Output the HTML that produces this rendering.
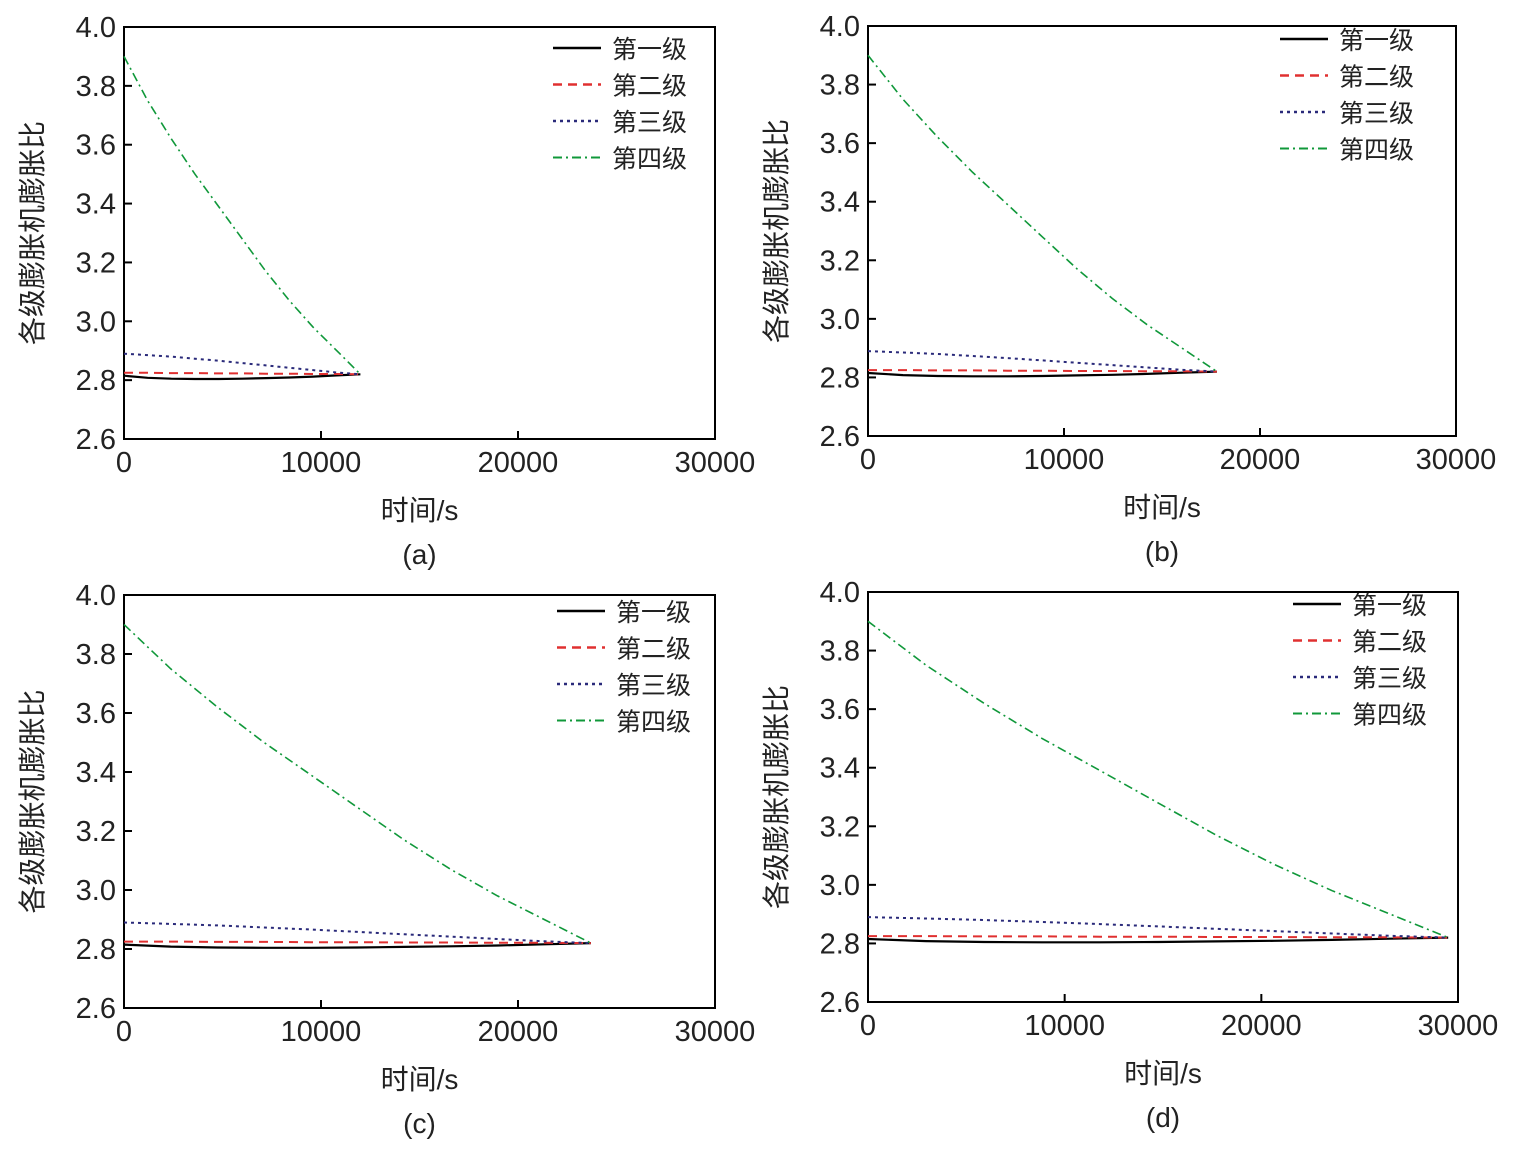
<!DOCTYPE html>
<html><head><meta charset="utf-8"><style>
body{margin:0;background:#fff}
svg text{font-family:"Liberation Sans","Noto Sans CJK SC",sans-serif;fill:#222}
</style></head><body>
<svg id="fig" width="1519" height="1152" xmlns="http://www.w3.org/2000/svg"></svg>
<script>
// shared data
const fracs = [0,0.1,0.2,0.3,0.4,0.5,0.6,0.7,0.8,0.9,1];
const stage1 = [2.815,2.808,2.805,2.804,2.804,2.805,2.807,2.809,2.812,2.816,2.82];
const stage2 = [2.825,2.825,2.824,2.824,2.823,2.823,2.822,2.822,2.821,2.821,2.82];
const stage3 = [2.89,2.885,2.88,2.873,2.866,2.858,2.85,2.842,2.834,2.826,2.82];
const stage4 = [3.9,3.75,3.62,3.50,3.39,3.28,3.17,3.07,2.98,2.90,2.82];
const endTimes = [12000,17800,23700,29500];
const panelLabels = ['(a)','(b)','(c)','(d)'];
const xTicks = [0,10000,20000,30000];
const yTicks = [2.6,2.8,3.0,3.2,3.4,3.6,3.8,4.0];
const seriesNames = ['第一级','第二级','第三级','第四级'];

const panels = [
 {l:124,r:715,t:27,b:439,lx:553,ly:52},
 {l:868,r:1456,t:26,b:436,lx:1280,ly:43},
 {l:124,r:715,t:595,b:1008,lx:557,ly:615},
 {l:868,r:1458,t:592,b:1002,lx:1293,ly:608}
];
const styles = [
 {c:'#000',w:2.2,d:''},
 {c:'#e03030',w:2,d:'9,6'},
 {c:'#2a2a7a',w:2,d:'3,4'},
 {c:'#10983a',w:1.6,d:'9,4,2,4'}
];
const svg = document.getElementById('fig');
const NS='http://www.w3.org/2000/svg';
function mk(tag,attrs,parent){const e=document.createElementNS(NS,tag);for(const k in attrs)e.setAttribute(k,attrs[k]);(parent||svg).appendChild(e);return e;}

panels.forEach((p,pi)=>{
 const g=mk('g',{});
 
 
 const X=v=>p.l+(v/30000)*(p.r-p.l);
 const Y=v=>p.b-(v-2.6)/1.4*(p.b-p.t);
 const frame=mk('rect',{x:p.l,y:p.t,width:p.r-p.l,height:p.b-p.t,fill:'none',stroke:'#000','stroke-width':2},g);
 
 
 xTicks.forEach(v=>{
  mk('line',{x1:X(v),x2:X(v),y1:p.b,y2:p.b-8,stroke:'#000','stroke-width':2},g);
  const t=mk('text',{x:X(v),y:p.b+33,'font-size':29,'text-anchor':'middle'},g);
  t.textContent=v;
  
  
 });
 yTicks.forEach(v=>{
  mk('line',{x1:p.l,x2:p.l+8,y1:Y(v),y2:Y(v),stroke:'#000','stroke-width':2},g);
  const t=mk('text',{x:p.l-8,y:Y(v)+10,'font-size':29,'text-anchor':'end'},g);
  t.textContent=v.toFixed(1);
  
  
 });
 const cx=(p.l+p.r)/2;
 const xt=mk('text',{x:cx,y:p.b+81,'font-size':28,'text-anchor':'middle'},g);
 xt.textContent='时间/s';
 
 
 const cy=(p.t+p.b)/2;
 const yt=mk('text',{x:0,y:0,'font-size':28,'text-anchor':'middle',transform:`translate(${p.l-82},${cy}) rotate(-90)`},g);
 yt.textContent='各级膨胀机膨胀比';
 
 
 const pl=mk('text',{x:cx,y:p.b+125,'font-size':28,'text-anchor':'middle'},g);
 pl.textContent=panelLabels[pi];
 
 
 [stage1,stage2,stage3,stage4].forEach((arr,si)=>{
  const pts=fracs.map((f,i)=>X(f*endTimes[pi]).toFixed(1)+','+Y(arr[i]).toFixed(1)).join(' ');
  const s=styles[si];
  const pline=mk('polyline',{points:pts,fill:'none',stroke:s.c,'stroke-width':s.w,'stroke-dasharray':s.d},g);
  
  
  const ly=p.ly+si*36.5;
  mk('line',{x1:p.lx,x2:p.lx+48,y1:ly-4,y2:ly-4,stroke:s.c,'stroke-width':s.w+0.4,'stroke-dasharray':s.d},g);
  const lt=mk('text',{x:p.lx+59,y:ly+6,'font-size':25},g);
  lt.textContent=seriesNames[si];
  
  
 });
});
</script>
</body></html>
